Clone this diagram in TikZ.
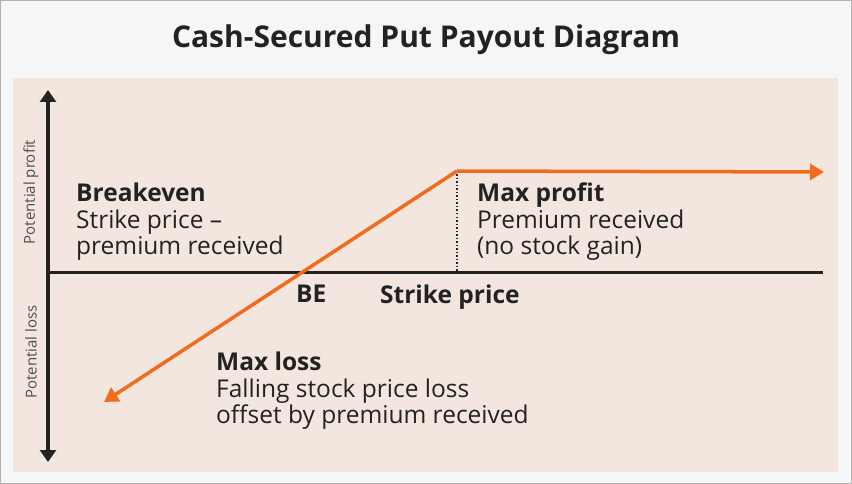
\documentclass[tikz,border=0pt]{standalone}
\usepackage{fontspec}
\setmainfont{Open Sans}
\usetikzlibrary{arrows.meta}
\definecolor{panel}{HTML}{F3E6DF}
\definecolor{frame}{HTML}{F4F6F8}
\definecolor{payoff}{HTML}{F26B1D}
\definecolor{ink}{HTML}{222222}
\tikzset{
	axis/.style={line width=3.5pt, ink},
	label/.style={font=\fontsize{24.5}{26.5}\selectfont, text=ink, align=left, anchor=north west, inner sep=0pt},
	side/.style={font=\fontsize{15}{18}\selectfont, text=ink!80, rotate=90, inner sep=0pt}
}
\begin{document}
\begin{tikzpicture}[x=1pt,y=-1pt]
	\useasboundingbox (0,0) rectangle (852,484);
	\fill[frame] (0,0) rectangle (852,484);
	\draw[gray!60, line width=1pt] (0.5,0.5) rectangle (851.5,483.5);
	\fill[panel] (13,78) rectangle (838,472);
	\node[font=\fontsize{30}{34}\selectfont\bfseries, text=ink] (title) at (426,40) {Cash-Secured Put Payout Diagram};

	% axes
	\coordinate (ytop) at (48,90);
	\coordinate (ybot) at (48,462);
	\coordinate (xleft) at (46,272);
	\coordinate (xright) at (823,272);
	\draw[axis, {Triangle[length=12pt,width=16pt]}-{Triangle[length=12pt,width=16pt]}] (ytop) -- (ybot);
	\draw[line width=3pt, ink] (xleft) -- (xright);
	\node[side] (profit) at (31,192) {Potential profit};
	\node[side] (loss) at (31,352) {Potential loss};

	% payoff
	\coordinate (lossend) at (104,402);
	\coordinate (kink) at (457,171);
	\coordinate (gainend) at (824,172);
	\coordinate (strike) at (457,272);
	\draw[dotted, line width=1.5pt, ink] (kink) -- (strike);
	\draw[payoff, line width=3.5pt, -{Triangle[length=14pt,width=16pt]}] (kink) -- (lossend);
	\draw[payoff, line width=3.5pt, -{Triangle[length=14pt,width=16pt]}] (kink) -- (gainend);

	% texts
	\node[label] (breakeven) at (76,183) {\textbf{Breakeven}\\Strike price –\\premium received};
	\node[label] (maxprofit) at (477,183) {\textbf{Max profit}\\Premium received\\(no stock gain)};
	\node[label] (be) at (296,285) {\textbf{BE}};
	\node[label] (strikelbl) at (380,285) {\textbf{Strike price}};
	\node[label] (maxloss) at (216,352) {\textbf{Max loss}\\Falling stock price loss\\offset by premium received};
\end{tikzpicture}
\end{document}
